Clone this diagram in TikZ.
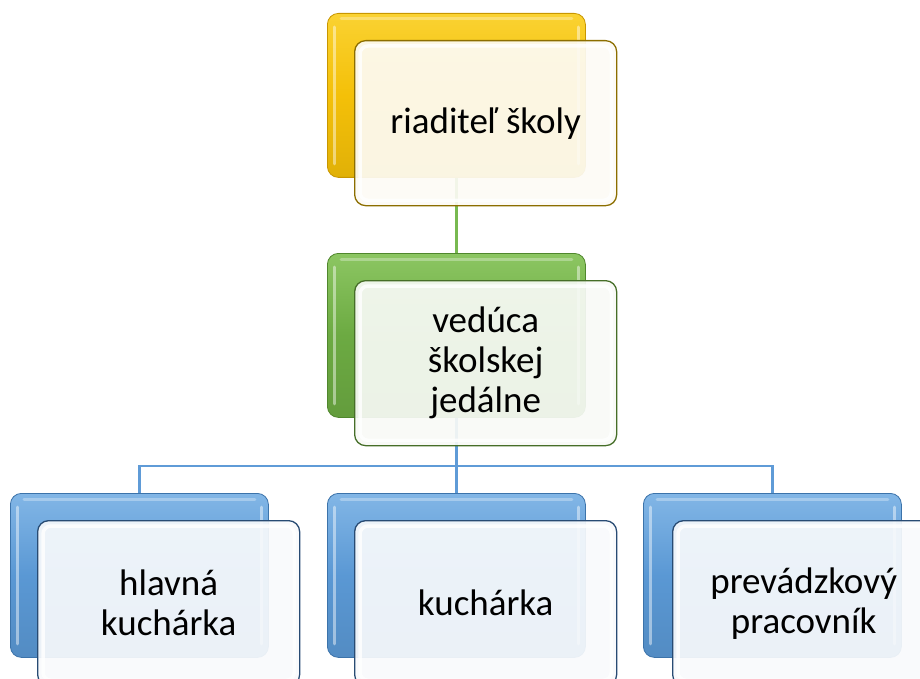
\documentclass[tikz,border=0pt]{standalone}
\usepackage{fontspec}
\setmainfont{Carlito}
\pgfdeclarelayer{bg}
\pgfsetlayers{bg,main}
\definecolor{yelBase}{RGB}{244,192,8}
\definecolor{yelLight}{RGB}{250,210,50}
\definecolor{yelEdge}{RGB}{200,150,0}
\definecolor{yelFront}{RGB}{253,251,245}
\definecolor{yelBorder}{RGB}{140,110,0}
\definecolor{grnBase}{RGB}{108,170,66}
\definecolor{grnLight}{RGB}{140,198,98}
\definecolor{grnEdge}{RGB}{80,135,45}
\definecolor{grnFront}{RGB}{248,250,246}
\definecolor{grnBorder}{RGB}{70,110,40}
\definecolor{bluBase}{RGB}{90,152,212}
\definecolor{bluLight}{RGB}{130,182,230}
\definecolor{bluEdge}{RGB}{60,115,170}
\definecolor{bluFront}{RGB}{248,250,252}
\definecolor{bluBorder}{RGB}{40,75,115}
\definecolor{gLine}{RGB}{120,185,80}
\definecolor{bLine}{RGB}{95,155,215}
\tikzset{
  backbox/.style={rounded corners=11pt, minimum width=258pt, minimum height=164pt,
    anchor=north west, inner sep=0pt, draw=#1Edge, line width=0.8pt,
    top color=#1Light, bottom color=#1Base!92!black, middle color=#1Base},
  frontbox/.style={rounded corners=11pt, minimum width=262pt, minimum height=165pt,
    anchor=north west, inner sep=0pt, draw=#1Border, line width=1.3pt,
    fill=#1Front, fill opacity=0.92, text opacity=1, align=center,
    font=\fontsize{37}{40}\selectfont},
  glow/.style={white, line width=3.5pt, opacity=0.8, rounded corners=8pt},
  shine/.style={white, line width=3pt, opacity=0.45, line cap=round},
  gline/.style={gLine, line width=2.6pt},
  bline/.style={bLine, line width=2.6pt}
}
\newcommand\backshine[1]{%
  \draw[shine] ([shift={(7pt,-14pt)}]#1.north west) -- ([shift={(7pt,14pt)}]#1.south west);
  \draw[shine] ([shift={(-7pt,-14pt)}]#1.north east) -- ([shift={(-7pt,14pt)}]#1.south east);
  \draw[shine, opacity=0.3] ([shift={(14pt,-6pt)}]#1.north west) -- ([shift={(-14pt,-6pt)}]#1.north east);}
\newcommand\frontglow[1]{%
  \draw[glow] ([shift={(6pt,-6pt)}]#1.north west) rectangle ([shift={(-6pt,6pt)}]#1.south east);}
\begin{document}
\begin{tikzpicture}[x=1pt,y=-1pt]
\clip (0,0) rectangle (920,679);
% back boxes
\node[backbox=yel] (b1) at (327,13) {};
\node[backbox=grn] (b2) at (327,253) {};
\node[backbox=blu] (b3) at (10,493) {};
\node[backbox=blu] (b4) at (327,493) {};
\node[backbox=blu] (b5) at (643,493) {};
\backshine{b1}\backshine{b2}\backshine{b3}\backshine{b4}\backshine{b5}
% front boxes
\node[frontbox=yel] (f1) at (354,40) {riaditeľ školy};
\frontglow{f1}
\node[frontbox=grn] (f2) at (354,280) {vedúca\\školskej\\jedálne};
\frontglow{f2}
\node[frontbox=blu] (f3) at (37,520) {hlavná\\kuchárka};
\frontglow{f3}
\node[frontbox=blu] (f4) at (354,520) {kuchárka};
\frontglow{f4}
\node[frontbox=blu] (f5) at (672,520) {prevádzkový\\pracovník};
\frontglow{f5}
% connectors
\begin{pgfonlayer}{bg}
\coordinate (hub) at ([yshift=-48pt]b2.south);
\draw[gline] (b1.south) -- (b2.north);
\draw[bline] (b2.south) -- (hub);
\draw[bline] (hub) -| (b3.north);
\draw[bline] (hub) -- (b4.north);
\draw[bline] (hub) -| (b5.north);
\end{pgfonlayer}
\end{tikzpicture}
\end{document}
